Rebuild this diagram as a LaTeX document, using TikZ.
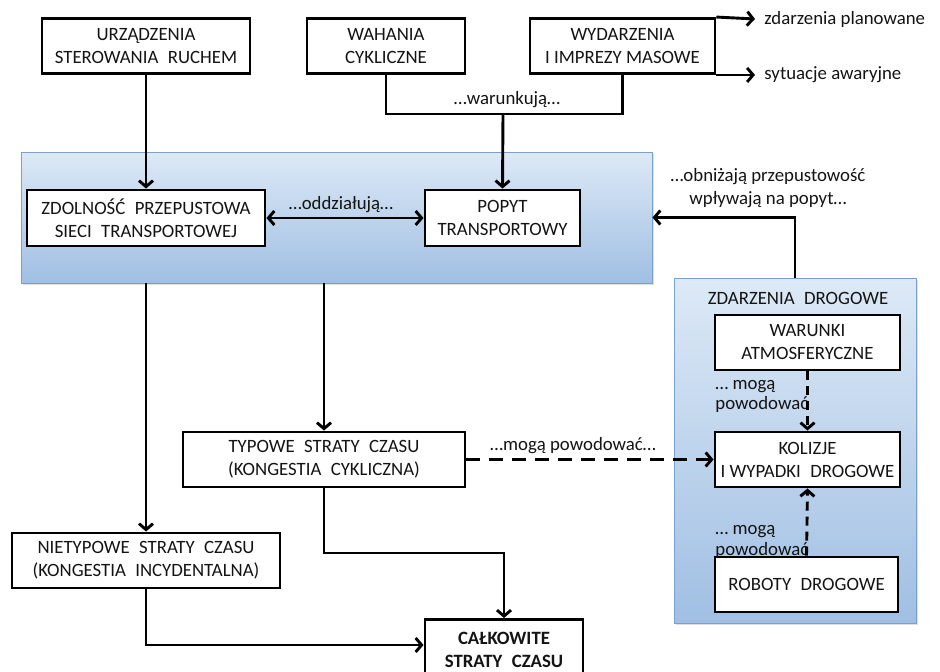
\documentclass[tikz,border=0pt]{standalone}
\usepackage{fontspec}
\setmainfont{Carlito}
\usetikzlibrary{arrows.meta,shadows,calc}
\definecolor{paneltop}{RGB}{221,233,246}
\definecolor{panelbot}{RGB}{160,191,227}
\definecolor{panelline}{RGB}{122,161,206}
\definecolor{ink}{RGB}{20,20,20}
% wider gap between words in the box captions
\newcommand{\ws}{\hspace{0.5em}}
\begin{document}
\begin{tikzpicture}[x=1pt,y=-1pt,
  line width=2.9pt,
  >={Straight Barb[length=6pt,width=14pt]},
  every node/.style={font=\fontsize{18.8}{23}\selectfont, text=ink},
  bx/.style={draw=black, fill=white, align=center, inner sep=0pt, minimum height=55pt},
  panel/.style={draw=panelline, line width=0.9pt, top color=paneltop, bottom color=panelbot,
    inner sep=0pt, drop shadow={shadow xshift=2pt, shadow yshift=-2pt, opacity=0.25}},
  lbl/.style={align=center, inner sep=0pt},
  side/.style={align=left, inner sep=0pt, anchor=west, font=\fontsize{18.8}{20.5}\selectfont},
  dsh/.style={dash pattern=on 14pt off 9pt},
  vdsh/.style={dash pattern=on 9pt off 6pt}]

\clip (0,0) rectangle (940,672);
\fill[white] (0,0) rectangle (940,672);

% shaded panels
\node[panel, minimum width=631pt, minimum height=131pt] (cap) at (336.5,217.5) {};
\node[panel, minimum width=242pt, minimum height=345pt] (road) at (795,450.5) {};
\node[lbl] (roadt) at (798,298) {ZDARZENIA\ws DROGOWE};

% top row
\node[bx, minimum width=208pt] (urz) at (146,46) {URZĄDZENIA\\STEROWANIA\ws RUCHEM};
\node[bx, minimum width=158pt] (wah) at (386,46) {WAHANIA\\CYKLICZNE};
\node[bx, minimum width=185pt] (wyd) at (622.5,46) {WYDARZENIA\\I IMPREZY MASOWE};
\node[anchor=west, inner sep=0pt] (plan) at (763,19) {zdarzenia planowane};
\node[anchor=west, inner sep=0pt] (awar) at (763,75) {sytuacje awaryjne};

% capacity / demand
\node[bx, minimum width=238pt, minimum height=56pt] (zdol) at (146,218) {ZDOLNOŚĆ\ws PRZEPUSTOWA\\SIECI\ws TRANSPORTOWEJ};
\node[bx, minimum width=155pt, minimum height=56pt] (popyt) at (502.5,218) {POPYT\\TRANSPORTOWY};

% road events
\node[bx, minimum width=185pt] (war) at (807.5,342.5) {WARUNKI\\ATMOSFERYCZNE};
\node[bx, minimum width=185pt] (kol) at (807.5,459.5) {KOLIZJE\\I WYPADKI\ws DROGOWE};
\node[bx, minimum width=183pt] (rob) at (806.5,584.5) {ROBOTY\ws DROGOWE};

% time losses
\node[bx, minimum width=282pt] (typ) at (324,459.5) {TYPOWE\ws STRATY\ws CZASU\\(KONGESTIA\ws CYKLICZNA)};
\node[bx, minimum width=268pt] (niet) at (146,560.5) {NIETYPOWE\ws STRATY\ws CZASU\\(KONGESTIA\ws INCYDENTALNA)};
\node[bx, minimum width=158pt, minimum height=90pt, anchor=north] (calk) at (504,618) {};
\node[lbl, font=\fontsize{18.8}{23}\selectfont\bfseries] (calkt) at (504,650) {CAŁKOWITE\\STRATY\ws CZASU};

% labels on connectors
\node[lbl] (lwar) at (507,100) {…warunkują…};
\node[lbl] (lodd) at (341,205) {…oddziałują…};
\node[lbl] (lobn) at (768,188.5) {…obniżają przepustowość\\wpływają na popyt…};
\node[lbl] (lmog) at (573,446) {…mogą powodować…};
\node[side] (lm1) at (714,396.5) {… mogą\\powodować};
\node[side] (lm2) at (714,542) {… mogą\\powodować};

% connectors
\coordinate (jn) at (503,114);
\draw[->] (urz.south) -- (zdol.north);
\draw (wah.south) |- (jn) -| (wyd.south);
\draw[->] (jn) -- (popyt.north);
\draw[->] (wyd.north east) -- ([xshift=-8pt]plan.west);
\draw[->] (wyd.south east) -- ([xshift=-8pt]awar.west |- wyd.south east);
\draw[<->] (zdol.east) -- (popyt.west);
\draw[->] (road.north -| 795,0) |- (cap.east);
\draw[->] (cap.south -| niet.north) -- (niet.north);
\draw[->] (cap.south -| typ.north) -- (typ.north);
\draw[->, dsh] (typ.east) -- (kol.west);
\draw[->, vdsh] (war.south) -- (kol.north);
\draw[->, vdsh] (rob.north) -- (kol.south);
\draw[->] (niet.south) |- ([yshift=-27pt]calk.north west);
\draw[->] (typ.south) |- (calk.north |- 0,553) -- (calk.north);
\end{tikzpicture}
\end{document}
